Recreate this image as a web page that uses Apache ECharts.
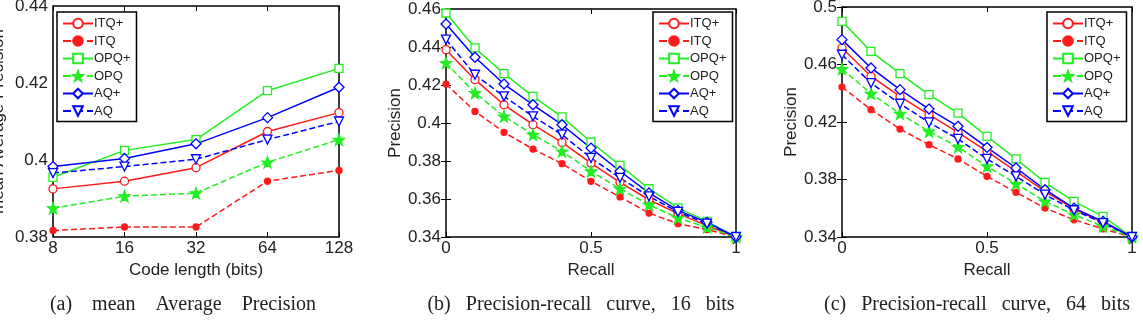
<!DOCTYPE html>
<html>
<head>
<meta charset="utf-8">
<title>ECharts</title>
<script src="https://cdn.jsdelivr.net/npm/echarts@6/dist/echarts.min.js"></script>
<style>
html, body { margin: 0; padding: 0; background: #fff; }
#main { width: 1143px; height: 320px; }
</style>
</head>
<body>
<div id="main"></div>
<script>
// legend / series names
var names = ['ITQ+', 'ITQ', 'OPQ+', 'OPQ', 'AQ+', 'AQ'];

// (a) mAP vs code length
var codeLength = ['8', '16', '32', '64', '128'];
var mapITQp = [0.3925, 0.3945, 0.398, 0.4074, 0.4123];
var mapITQ  = [0.3817, 0.3826, 0.3826, 0.3945, 0.3973];
var mapOPQp = [0.3955, 0.4025, 0.4053, 0.418, 0.4238];
var mapOPQ  = [0.3875, 0.3906, 0.3914, 0.3994, 0.4053];
var mapAQp  = [0.3983, 0.4004, 0.4042, 0.411, 0.4189];
var mapAQ   = [0.3966, 0.3983, 0.4002, 0.4053, 0.41];

// recall points for (b) and (c)
var recall = [0, 0.1, 0.2, 0.3, 0.4, 0.5, 0.6, 0.7, 0.8, 0.9, 1];

// (b) 16 bits
var pr16ITQp = [0.4386, 0.4228, 0.4096, 0.3991, 0.3898, 0.3789, 0.3688, 0.3596, 0.3523, 0.346, 0.34];
var pr16ITQ  = [0.4205, 0.4061, 0.3951, 0.3863, 0.3786, 0.3693, 0.3611, 0.3526, 0.347, 0.3439, 0.34];
var pr16OPQp = [0.4579, 0.4395, 0.426, 0.414, 0.4032, 0.39, 0.3777, 0.3654, 0.3553, 0.3482, 0.34];
var pr16OPQ  = [0.4316, 0.4158, 0.4035, 0.3939, 0.3851, 0.3746, 0.3654, 0.357, 0.35, 0.3451, 0.34];
var pr16AQp  = [0.4521, 0.4346, 0.4205, 0.4096, 0.3991, 0.3868, 0.3746, 0.3632, 0.354, 0.3477, 0.34];
var pr16AQ   = [0.4439, 0.4254, 0.414, 0.4035, 0.3939, 0.3816, 0.3711, 0.3614, 0.3532, 0.347, 0.34];

// (c) 64 bits
var pr64ITQp = [0.4715, 0.4518, 0.4378, 0.4251, 0.4128, 0.3996, 0.3857, 0.3718, 0.3595, 0.3502, 0.34];
var pr64ITQ  = [0.4443, 0.4286, 0.4151, 0.4042, 0.3943, 0.3822, 0.3711, 0.3601, 0.352, 0.3456, 0.34];
var pr64OPQp = [0.49, 0.4691, 0.4536, 0.439, 0.4262, 0.41, 0.3943, 0.378, 0.3648, 0.3543, 0.34];
var pr64OPQ  = [0.4569, 0.4397, 0.4258, 0.4135, 0.4026, 0.3892, 0.3771, 0.3648, 0.3555, 0.3474, 0.34];
var pr64AQp  = [0.4773, 0.4576, 0.4425, 0.429, 0.417, 0.4023, 0.388, 0.3729, 0.3601, 0.3509, 0.34];
var pr64AQ   = [0.4668, 0.4471, 0.4327, 0.4197, 0.4082, 0.3943, 0.3822, 0.3695, 0.3586, 0.3497, 0.34];

var captions = ['(a)    mean    Average    Precision', '(b)   Precision-recall   curve,   16   bits', '(c)   Precision-recall   curve,   64   bits'];

var RED = '#ff1a1a', GREEN = '#22ee22', BLUE = '#0000ff';
var STAR = 'path://M0,-10L2.35,-3.24L9.51,-3.09L3.8,1.24L5.88,8.09L0,4L-5.88,8.09L-3.8,1.24L-9.51,-3.09L-2.35,-3.24Z';

// look of each series, same order as names
var styles = [
    { color: RED,   dash: 'solid',  symbol: 'circle',  open: true,  size: 8, rot: 0 },
    { color: RED,   dash: 'dashed', symbol: 'circle',  open: false, size: 6, rot: 0 },
    { color: GREEN, dash: 'solid',  symbol: 'rect',    open: true,  size: 8, rot: 0 },
    { color: GREEN, dash: 'dashed', symbol: STAR,      open: false, size: 11, rot: 0 },
    { color: BLUE,  dash: 'solid',  symbol: 'diamond', open: true,  size: 10, rot: 0 },
    { color: BLUE,  dash: 'dashed', symbol: 'triangle', open: true, size: 9, rot: 180 }
];

function mkSeries(i, data, gi) {
    var s = styles[i];
    return {
        name: names[i], type: 'line', data: data,
        xAxisIndex: gi * 2, yAxisIndex: gi * 2,
        symbol: s.symbol, symbolSize: s.size, symbolRotate: s.rot,
        showAllSymbol: true, animation: false,
        lineStyle: { color: s.color, width: 1.5, type: s.dash },
        itemStyle: { color: s.open ? '#fff' : s.color, borderColor: s.color, borderWidth: 1.3 },
        emphasis: { disabled: true }
    };
}

function pairs(ys) {
    return recall.map(function (r, k) { return [r, ys[k]]; });
}

var grids = [
    { left: 53, top: 6, width: 286, height: 231 },
    { left: 446, top: 9, width: 290, height: 228 },
    { left: 842, top: 7, width: 290, height: 230 }
];
grids.forEach(function (g) {
    g.show = true; g.borderColor = '#000'; g.borderWidth = 1.5; g.backgroundColor = '#fff';
    g.containLabel = false; g.outerBoundsMode = 'none';
});

var FONT = 'Liberation Sans, Arial, sans-serif';
var lbl = { color: '#222', fontSize: 17, fontFamily: FONT };
var nameSt = { color: '#222', fontSize: 17, fontFamily: FONT };
var tick = { inside: true, length: 5, lineStyle: { color: '#000' } };

function valAxis(gi, pos, min, max, itv, main, nm, gap) {
    return {
        type: 'value', gridIndex: gi, position: pos, min: min, max: max, interval: itv,
        axisLine: { show: false }, axisTick: tick, splitLine: { show: false },
        axisLabel: main ? Object.assign({ margin: pos === 'bottom' ? 3 : 5, hideOverlap: false }, lbl) : { show: false },
        name: main ? nm : '', nameLocation: 'middle', nameGap: gap, nameTextStyle: nameSt
    };
}

var xAxes = [
    { type: 'category', gridIndex: 0, position: 'bottom', data: codeLength, boundaryGap: false,
      axisLine: { show: false }, axisTick: Object.assign({ alignWithLabel: true }, tick), splitLine: { show: false },
      axisLabel: Object.assign({ margin: 3 }, lbl), name: 'Code length (bits)', nameLocation: 'middle', nameGap: 20, nameTextStyle: nameSt },
    { type: 'category', gridIndex: 0, position: 'top', data: codeLength, boundaryGap: false,
      axisLine: { show: false }, axisTick: tick, axisLabel: { show: false } },
    valAxis(1, 'bottom', 0, 1, 0.5, true, 'Recall', 20),
    valAxis(1, 'top', 0, 1, 0.5, false),
    valAxis(2, 'bottom', 0, 1, 0.5, true, 'Recall', 20),
    valAxis(2, 'top', 0, 1, 0.5, false)
];
var yAxes = [
    valAxis(0, 'left', 0.38, 0.44, 0.02, true, 'mean Average Precision', 46),
    valAxis(0, 'right', 0.38, 0.44, 0.02, false),
    valAxis(1, 'left', 0.34, 0.46, 0.02, true, 'Precision', 40),
    valAxis(1, 'right', 0.34, 0.46, 0.02, false),
    valAxis(2, 'left', 0.34, 0.5, 0.04, true, 'Precision', 40),
    valAxis(2, 'right', 0.34, 0.5, 0.04, false)
];

var series = [];
[mapITQp, mapITQ, mapOPQp, mapOPQ, mapAQp, mapAQ].forEach(function (d, i) { series.push(mkSeries(i, d, 0)); });
[pr16ITQp, pr16ITQ, pr16OPQp, pr16OPQ, pr16AQp, pr16AQ].forEach(function (d, i) { series.push(mkSeries(i, pairs(d), 1)); });
[pr64ITQp, pr64ITQ, pr64OPQp, pr64OPQ, pr64AQp, pr64AQ].forEach(function (d, i) { series.push(mkSeries(i, pairs(d), 2)); });

function mkLegend(left) {
    return {
        data: names, orient: 'vertical', left: left, top: 12,
        itemWidth: 30, itemHeight: 12, itemGap: 4.5,
        padding: [5, 6, 4, 5],
        backgroundColor: '#fff', borderColor: '#000', borderWidth: 1.5,
        selectedMode: false,
        textStyle: { color: '#222', fontSize: 13, fontFamily: FONT, padding: [0, 0, 0, -4] }
    };
}

var capX = [183, 581, 977];
var graphic = captions.map(function (t, i) {
    return {
        type: 'text', x: capX[i], y: 305,
        style: { text: t, fill: '#222', font: '20px "Liberation Serif", "Times New Roman", serif', textAlign: 'center', textVerticalAlign: 'middle' }
    };
});

var myChart = echarts.init(document.getElementById('main'), null, { renderer: 'canvas' });
myChart.setOption({
    animation: false,
    grid: grids,
    xAxis: xAxes,
    yAxis: yAxes,
    legend: [mkLegend(57), mkLegend(653), mkLegend(1047)],
    series: series,
    graphic: graphic
});
</script>
</body>
</html>
